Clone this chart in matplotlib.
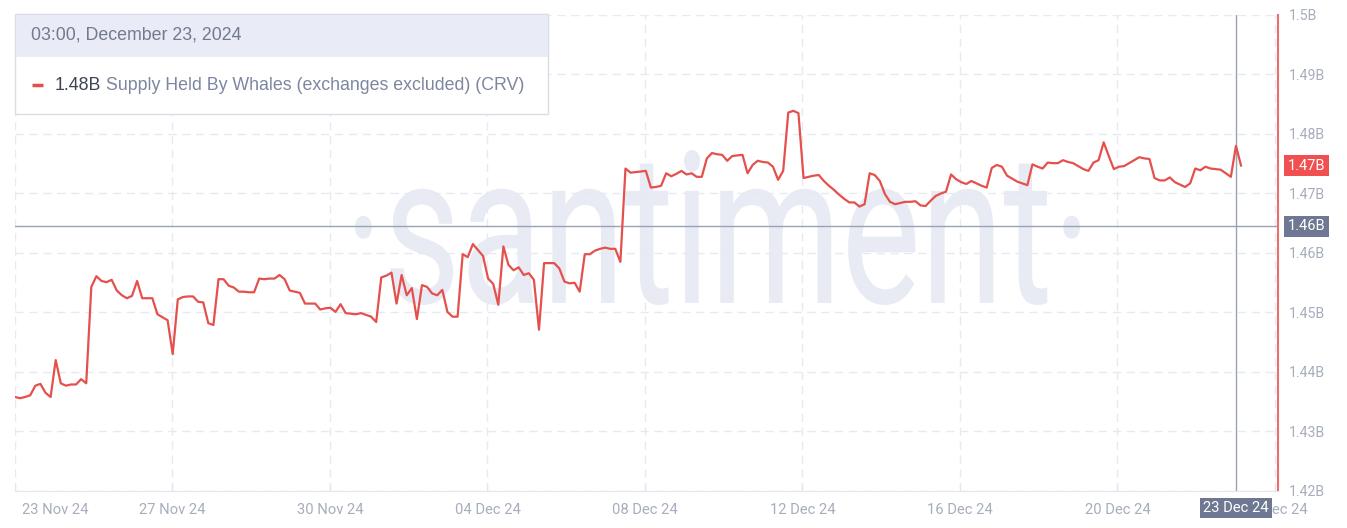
import matplotlib
matplotlib.use("Agg")
import matplotlib.pyplot as plt
import matplotlib.dates as mdates
import pandas as pd
from matplotlib.textpath import TextPath
from matplotlib.font_manager import FontProperties
from matplotlib.patches import PathPatch, Rectangle
from matplotlib.transforms import Affine2D, ScaledTranslation

plt.rcParams['font.family'] = ['Roboto', 'DejaVu Sans']

# supply held by whales, billions of CRV, 3-hourly from 23 Nov 03:00
start = "2024-11-23 03:00"
values = [
    1.4358, 1.4356, 1.4358, 1.4361, 1.4377, 1.4380, 1.4365, 1.4358, 1.4420, 1.4381,
    1.4377, 1.4379, 1.4379, 1.4388, 1.4381, 1.4543, 1.4561, 1.4553, 1.4551, 1.4555,
    1.4537, 1.4529, 1.4524, 1.4528, 1.4553, 1.4524, 1.4524, 1.4524, 1.4497, 1.4492,
    1.4487, 1.4430, 1.4522, 1.4526, 1.4527, 1.4527, 1.4518, 1.4517, 1.4482, 1.4479,
    1.4556, 1.4556, 1.4545, 1.4542, 1.4535, 1.4535, 1.4534, 1.4534, 1.4557, 1.4556,
    1.4557, 1.4557, 1.4563, 1.4556, 1.4537, 1.4535, 1.4533, 1.4515, 1.4515, 1.4515,
    1.4505, 1.4507, 1.4508, 1.4501, 1.4514, 1.4499, 1.4498, 1.4497, 1.4499, 1.4496,
    1.4493, 1.4484, 1.4559, 1.4562, 1.4567, 1.4515, 1.4563, 1.4529, 1.4541, 1.4489,
    1.4546, 1.4543, 1.4532, 1.4529, 1.4538, 1.4501, 1.4493, 1.4493, 1.4598, 1.4593,
    1.4615, 1.4605, 1.4595, 1.4557, 1.4548, 1.4513, 1.4611, 1.4580, 1.4571, 1.4576,
    1.4563, 1.4566, 1.4555, 1.4471, 1.4583, 1.4583, 1.4583, 1.4574, 1.4552, 1.4549,
    1.4550, 1.4535, 1.4598, 1.4598, 1.4604, 1.4607, 1.4609, 1.4607, 1.4607, 1.4585,
    1.4742, 1.4735, 1.4736, 1.4737, 1.4738, 1.4710, 1.4711, 1.4713, 1.4734, 1.4729,
    1.4733, 1.4738, 1.4732, 1.4734, 1.4728, 1.4728, 1.4759, 1.4768, 1.4766, 1.4765,
    1.4755, 1.4763, 1.4764, 1.4765, 1.4734, 1.4748, 1.4755, 1.4753, 1.4752, 1.4745,
    1.4723, 1.4738, 1.4836, 1.4839, 1.4835, 1.4726, 1.4728, 1.4730, 1.4731, 1.4721,
    1.4713, 1.4706, 1.4698, 1.4691, 1.4685, 1.4685, 1.4678, 1.4682, 1.4734, 1.4731,
    1.4721, 1.4699, 1.4686, 1.4682, 1.4684, 1.4686, 1.4686, 1.4687, 1.4680, 1.4679,
    1.4688, 1.4696, 1.4700, 1.4703, 1.4732, 1.4724, 1.4719, 1.4716, 1.4721, 1.4717,
    1.4713, 1.4710, 1.4743, 1.4748, 1.4745, 1.4730, 1.4725, 1.4720, 1.4717, 1.4714,
    1.4749, 1.4745, 1.4742, 1.4752, 1.4751, 1.4751, 1.4756, 1.4753, 1.4751, 1.4746,
    1.4741, 1.4738, 1.4752, 1.4756, 1.4786, 1.4763, 1.4741, 1.4745, 1.4746, 1.4751,
    1.4756, 1.4761, 1.4759, 1.4758, 1.4726, 1.4722, 1.4722, 1.4727, 1.4719, 1.4715,
    1.4711, 1.4717, 1.4742, 1.4739, 1.4745, 1.4742, 1.4741, 1.4740, 1.4734, 1.4728,
    1.4780, 1.4747,
]
y_ticks = [1.42, 1.43, 1.44, 1.45, 1.46, 1.47, 1.48, 1.49, 1.50]
y_labels = ["1.42B", "1.43B", "1.44B", "1.45B", "1.46B", "1.47B", "1.48B", "1.49B", "1.5B"]
x_labels = ["23 Nov 24", "27 Nov 24", "30 Nov 24", "04 Dec 24", "08 Dec 24",
            "12 Dec 24", "16 Dec 24", "20 Dec 24", "24 Dec 24"]
hover_time = pd.Timestamp("2024-12-23 03:00")
hover_value = 1.4645
hover_title = "03:00, December 23, 2024"
series_name = "Supply Held By Whales (exchanges excluded) (CRV)"

times = pd.date_range(start, periods=len(values), freq="3h")

RED = "#e5504d"
GREY = "#a6adbd"
SLATE = "#6f7892"
W, H = 1347, 528

fig = plt.figure(figsize=(W / 100, H / 100), dpi=100)

# watermark layer (pixel coords)
bg = fig.add_axes([0, 0, 1, 1], zorder=0)
bg.set_xlim(0, W)
bg.set_ylim(H, 0)
bg.axis("off")
tp = TextPath((0, 0), "\u00b7santiment\u00b7", size=100, prop=FontProperties(family="Roboto"))
ext = tp.get_extents()
tr = (Affine2D().translate(-ext.x0, -ext.y0)
      .scale(725 / ext.width, -155 / ext.height).translate(355, 305))
bg.add_patch(PathPatch(tr.transform_path(tp), facecolor="#e8ebf4", edgecolor="none"))

# main chart
ax = fig.add_axes([15 / W, 37 / H, 1263 / W, 476 / H], zorder=1)
ax.patch.set_alpha(0)
ax.plot(times, values, color=RED, lw=1.6, zorder=3)

t0 = times[0]
step = pd.Timedelta(hours=92.87)
ax.set_xlim(t0, t0 + pd.Timedelta(hours=744.8))
ax.set_ylim(1.42, 1.50)
ax.set_xticks([t0 + k * step for k in range(len(x_labels))])
ax.set_xticklabels(x_labels)
ax.set_yticks(y_ticks)
ax.set_yticklabels(y_labels)
ax.yaxis.tick_right()
ax.tick_params(axis="y", length=0, pad=8, labelsize=10.2, labelcolor=GREY)
ax.tick_params(axis="x", direction="in", length=6, color="#e3e6ee", pad=9,
               labelsize=10.6, labelcolor=GREY)
first = ax.get_xticklabels()[0]
first.set_ha("left")
first.set_transform(first.get_transform() + ScaledTranslation(5 / 72, 0, fig.dpi_scale_trans))

ax.grid(True, color="#e7eaf1", linestyle=(0, (6, 4)), lw=1)
for s in ["top", "left"]:
    ax.spines[s].set_visible(False)
ax.spines["bottom"].set_color("#e3e6ee")
ax.spines["right"].set_color("#ec6d6d")
ax.spines["right"].set_linewidth(1.5)

# crosshair
ax.axvline(hover_time, color="#9aa2b6", lw=1, zorder=2)
ax.axhline(hover_value, color="#9aa2b6", lw=1, zorder=2)

def fmt(v):
    return f"{v:.2f}".rstrip("0").rstrip(".") + "B"

ax.annotate(fmt(values[-1]), xy=(1, values[-1]), xycoords=ax.get_yaxis_transform(),
            xytext=(7, 0), textcoords="offset points", ha="left", va="center",
            color="white", fontsize=10.5, annotation_clip=False,
            bbox=dict(boxstyle="square,pad=0.25", fc="#f0504f", ec="none"))
ax.annotate(fmt(hover_value), xy=(1, hover_value), xycoords=ax.get_yaxis_transform(),
            xytext=(7, 0), textcoords="offset points", ha="left", va="center",
            color="white", fontsize=10.5, annotation_clip=False,
            bbox=dict(boxstyle="square,pad=0.25", fc=SLATE, ec="none"))
ax.annotate(hover_time.strftime("%d %b %y"), xy=(mdates.date2num(hover_time), 0),
            xycoords=ax.get_xaxis_transform(),
            xytext=(0, -12.5), textcoords="offset points", ha="center", va="center",
            color="white", fontsize=10.6, annotation_clip=False, zorder=10,
            bbox=dict(boxstyle="square,pad=0.2", fc=SLATE, ec="none"))

# tooltip box (pixel coords)
top = fig.add_axes([0, 0, 1, 1], zorder=5)
top.set_xlim(0, W)
top.set_ylim(H, 0)
top.axis("off")
top.add_patch(Rectangle((15, 14), 533, 100, fc="white", ec="#d8dce5", lw=1))
top.add_patch(Rectangle((15.5, 14.5), 532, 42.5, fc="#e9ecf6", ec="none"))
tip_font = ["Liberation Sans", "DejaVu Sans"]
top.text(31, 35, hover_title, color="#737a8e", fontsize=12.8, va="center", family=tip_font)
top.plot([32, 43], [85, 85], color=RED, lw=2.5, solid_capstyle="butt")
hover_idx = list(times).index(hover_time)
t1 = top.text(55, 85, fmt(values[hover_idx]), color="#3f4452", fontsize=12.8, va="center",
              family=tip_font)
top.annotate(series_name, xy=(1, 0.5), xycoords=t1, xytext=(3, 0), textcoords="offset points",
             va="center", color="#7d86a0", fontsize=12.8, family=tip_font)

fig.savefig("out.png", dpi=100)
